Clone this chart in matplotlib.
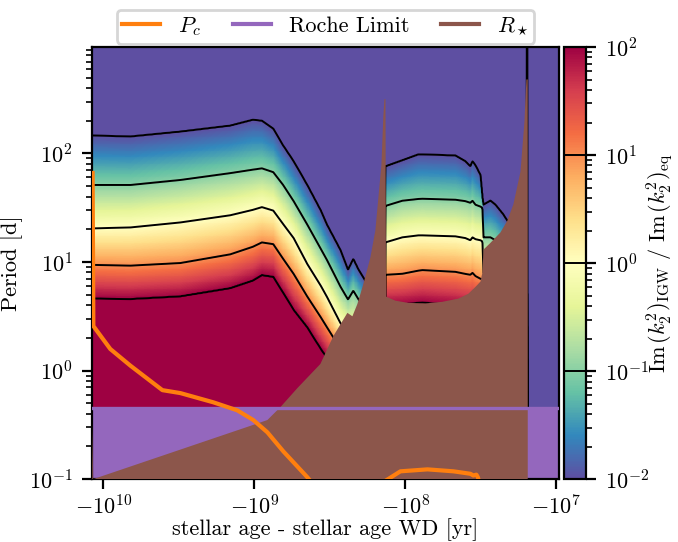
import numpy as np
import matplotlib.pyplot as plt
from matplotlib.colors import LogNorm
from matplotlib.lines import Line2D
from matplotlib.ticker import NullLocator

plt.rcParams['font.family'] = 'serif'
plt.rcParams['font.serif'] = ['cmr10']
plt.rcParams['mathtext.fontset'] = 'cm'
plt.rcParams['axes.formatter.use_mathtext'] = True
plt.rcParams['font.size'] = 8
plt.rcParams['xtick.major.pad'] = 2.0

# contour levels, log10 of Im(k2)_IGW / Im(k2)_eq
levels = [-2, -1, 0, 1, 2]

# first branch: log10(age_WD - age) and log10(P/d) of each level curve
ms_logdt = np.array([10.073, 9.82, 9.49, 9.16, 9.01, 8.95, 8.875, 8.81, 8.74,
                     8.65, 8.56, 8.52, 8.43, 8.38, 8.345, 8.31, 8.27, 8.13])
ms_lev_m2 = np.array([2.164, 2.155, 2.20, 2.255, 2.309, 2.30, 2.227, 2.073, 1.927,
                      1.709, 1.473, 1.345, 1.109, 0.927, 1.027, 0.927, 0.836, 0.5])
ms_lev_m1 = np.array([1.709, 1.709, 1.755, 1.818, 1.85, 1.862, 1.827, 1.71, 1.56,
                      1.345, 1.12, 1.02, 0.773, 0.655, 0.736, 0.655, 0.59, 0.3])
ms_lev_0 = np.array([1.309, 1.318, 1.364, 1.43, 1.48, 1.505, 1.473, 1.35, 1.22,
                     0.982, 0.78, 0.68, 0.436, 0.35, 0.3, 0.25, 0.2, 0.0])
ms_lev_p1 = np.array([0.973, 0.966, 0.99, 1.07, 1.14, 1.18, 1.164, 1.03, 0.89,
                      0.682, 0.49, 0.40, 0.2, 0.1, 0.05, 0.0, -0.05, -0.3])
ms_lev_p2 = np.array([0.664, 0.66, 0.685, 0.76, 0.83, 0.88, 0.864, 0.72, 0.56,
                      0.40, 0.2, 0.12, -0.05, -0.12, -0.17, -0.22, -0.27, -0.5])

# second branch (last two ages: the final model before the WD)
hb_logdt = np.array([8.128, 8.02, 7.914, 7.887, 7.669, 7.603, 7.57, 7.556, 7.536,
                     7.503, 7.49, 7.483, 7.437, 7.404, 7.351, 7.318, 7.20,
                     7.197, 7.19])
hb_lev_m2 = np.array([1.882, 1.936, 1.99, 1.99, 1.98, 1.927, 1.88, 1.927, 1.89,
                      1.80, 1.59, 1.527, 1.564, 1.527, 1.436, 1.364, 1.05,
                      3.2, 3.2])
hb_lev_m1 = np.array([1.518, 1.564, 1.58, 1.582, 1.573, 1.56, 1.545, 1.564, 1.527,
                      1.51, 1.50, 1.227, 1.227, 1.2, 1.12, 1.05, 0.72,
                      0.71, 0.7])
hb_lev_0 = np.array([1.182, 1.227, 1.245, 1.245, 1.236, 1.22, 1.2, 1.227, 1.21,
                     1.2, 1.19, 0.9, 0.9, 0.88, 0.8, 0.75, 0.42,
                     0.41, 0.4])
hb_lev_p1 = np.array([0.882, 0.891, 0.92, 0.925, 0.909, 0.89, 0.882, 0.9, 0.87,
                      0.845, 0.84, 0.6, 0.6, 0.58, 0.5, 0.45, 0.12,
                      0.11, 0.1])
hb_lev_p2 = np.array([0.60, 0.61, 0.625, 0.628, 0.60, 0.585, 0.575, 0.57, 0.56,
                      0.55, 0.54, 0.3, 0.3, 0.28, 0.2, 0.15, -0.18,
                      -0.19, -0.2])

# stellar radius expressed as an orbital period [d]
rstar_logdt = np.array([10.073, 10.067, 9.007, 8.914, 8.828, 8.715, 8.563, 8.477,
                        8.384, 8.351, 8.318, 8.278, 8.232, 8.199, 8.179, 8.159,
                        8.146, 8.139, 8.132, 8.128, 8.066, 7.980, 7.868, 7.755,
                        7.649, 7.583, 7.536, 7.503, 7.490, 7.483, 7.437, 7.371,
                        7.325, 7.285, 7.238, 7.212, 7.199, 7.190])
rstar_P = np.array([0.33, 0.10, 0.316, 0.35, 0.46, 0.69, 1.15, 2.08,
                    3.4, 3.16, 4.1, 6.3, 11, 19.5, 39, 78,
                    220, 316, 316, 4.8, 4.4, 4.2, 4.15, 4.3,
                    4.6, 5.1, 5.9, 6.6, 8, 13, 15, 18.7,
                    24, 34, 68, 195, 480, 480])

# critical period
pc_logdt = np.array([10.071, 10.066, 9.954, 9.821, 9.609, 9.490, 9.272, 9.113,
                     9.007, 8.914, 8.808, 8.649, 8.55, 8.30, 8.14, 8.033, 7.854,
                     7.682, 7.57, 7.55, 7.53, 7.52, 7.50])
pc_P = np.array([66, 2.57, 1.58, 1.11, 0.66, 0.62, 0.51, 0.43,
                 0.35, 0.27, 0.18, 0.104, 0.07, 0.07, 0.095, 0.118, 0.123,
                 0.118, 0.112, 0.108, 0.11, 0.104, 0.08])

# Roche limit
roche_logdt = np.array([10.073, 8.5, 7.5, 6.98])
roche_P = np.array([0.45, 0.45, 0.45, 0.45])


def level_field(cols, rows, logdt, curves):
    # curves go from the lowest level (longest period) to the highest
    out = np.empty((len(rows), len(cols)))
    for j, L in enumerate(cols):
        p = [np.interp(L, logdt[::-1], c[::-1]) for c in curves]
        xp = [p[-1] - 1] + p[::-1] + [p[0] + 1]
        fp = [3, 2, 1, 0, -1, -2, -3]
        out[:, j] = np.interp(rows, xp, fp)
    return out


cols = np.linspace(10.08, 6.975, 900)
rows = np.linspace(-1.0, 2.99, 500)
Z = np.full((len(rows), len(cols)), -4.0)
first = cols >= 8.133
second = (cols < 8.133) & (cols >= 7.19)
Z[:, first] = level_field(cols[first], rows, ms_logdt,
                          [ms_lev_m2, ms_lev_m1, ms_lev_0, ms_lev_p1, ms_lev_p2])
Z[:, second] = level_field(cols[second], rows, hb_logdt,
                           [hb_lev_m2, hb_lev_m1, hb_lev_0, hb_lev_p1, hb_lev_p2])

age = -10**cols
period = 10**rows

fig = plt.figure(figsize=(3.39, 2.71), dpi=200)
ax = fig.add_axes([0.1357, 0.116, 0.6888, 0.7973])
cax = fig.add_axes([0.8319, 0.116, 0.0324, 0.7973])

mesh = ax.pcolormesh(age, period, 10**Z, cmap='Spectral_r',
                     norm=LogNorm(1e-2, 1e2), shading='auto', zorder=0)
ax.contour(age, period, Z, levels=levels, colors='k', linewidths=0.7,
           negative_linestyles='solid', zorder=1)

ax.fill_between(-10**roche_logdt, 1e-3, roche_P, color='tab:purple', lw=0, zorder=2)
ax.fill_between(-10**rstar_logdt, 1e-3, rstar_P, color='tab:brown', lw=0, zorder=3)
ax.plot(-10**roche_logdt, roche_P, color='tab:purple', lw=1.2, zorder=4)
ax.plot(-10**pc_logdt, pc_P, color='tab:orange', lw=1.5, zorder=5)

ax.set_xscale('symlog', linthresh=1e5)
ax.set_yscale('log')
ax.set_xlim(-10**10.075, -10**6.983)
ax.set_ylim(0.1, 10**2.98)
ax.xaxis.set_minor_locator(NullLocator())
ax.set_xlabel('stellar age - stellar age WD [yr]', labelpad=0)
ax.set_ylabel('Period [d]', labelpad=2)

handles = [Line2D([], [], color='tab:orange', lw=1.5),
           Line2D([], [], color='tab:purple', lw=1.5),
           Line2D([], [], color='tab:brown', lw=1.5)]
ax.legend(handles, ['$P_c$', 'Roche Limit', r'$R_\star$'], ncol=3,
          loc='lower center', bbox_to_anchor=(0.5, 1.0), borderaxespad=0.15,
          columnspacing=1.45, handlelength=1.7, borderpad=0.25)

cbar = fig.colorbar(mesh, cax=cax)
cbar.add_lines([10.0**l for l in levels], ['k'] * 5, [0.7] * 5)
cbar.set_label(r'$\mathrm{Im}\,(k_2^2)_\mathrm{IGW}\ /\ \mathrm{Im}\,(k_2^2)_\mathrm{eq}$',
               labelpad=-2)

fig.savefig('out.png', dpi=200)
